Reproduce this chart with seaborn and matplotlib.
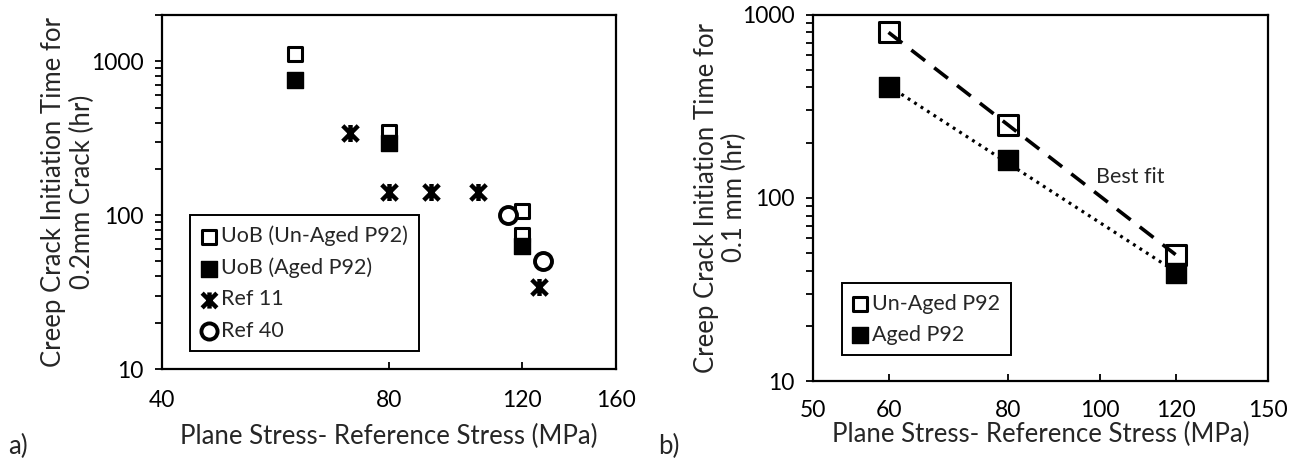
import numpy as np
import pandas as pd
import matplotlib
matplotlib.use("Agg")
import matplotlib.pyplot as plt
from matplotlib.path import Path
from matplotlib.ticker import FixedLocator, NullFormatter, LogLocator, FixedFormatter
import seaborn as sns

# ---------------- data: panel a) ----------------
a_unaged_x = [60, 80, 120, 120]
a_unaged_y = [1120, 345, 106, 74]
a_aged_x = [60, 80, 120]
a_aged_y = [760, 295, 63]
a_ref11_x = [71, 80, 91, 105, 126.5]
a_ref11_y = [340, 141, 141, 141, 34]
a_ref40_x = [115, 128]
a_ref40_y = [100, 50]
a_xticks = [40, 80, 120, 160]
a_yticks = [10, 100, 1000]

# ---------------- data: panel b) ----------------
b_unaged_x = [60, 80, 120]
b_unaged_y = [800, 250, 49]
b_aged_x = [60, 80, 120]
b_aged_y = [400, 160, 39]
b_xticks = [50, 60, 80, 100, 120, 150]
b_yticks = [10, 100, 1000]

sns.set_theme(style="ticks")
plt.rcParams['font.family'] = ['Lato', 'DejaVu Sans']
plt.rcParams['axes.edgecolor'] = 'black'
plt.rcParams['axes.linewidth'] = 1.5

FS_TICK = 16.5
FS_LEG = 15.5
FS_LAB = 18.5

fig = plt.figure(figsize=(12.93, 4.59), dpi=100)
axA = fig.add_axes([162/1293, 1-369/459, 454/1293, 354/459])
axB = fig.add_axes([813/1293, 1-381/459, 455/1293, 366.5/459])

star = Path([(-0.5, -0.5), (0.5, 0.5), (-0.5, 0.5), (0.5, -0.5), (0, -0.55), (0, 0.55)],
            [Path.MOVETO, Path.LINETO, Path.MOVETO, Path.LINETO, Path.MOVETO, Path.LINETO])

# ---- panel a ----
sns.scatterplot(x=a_unaged_x, y=a_unaged_y, ax=axA, marker='s', s=115, facecolor='white',
                edgecolor='black', linewidth=2.2, label='UoB (Un-Aged P92)', zorder=3)
sns.scatterplot(x=a_aged_x, y=a_aged_y, ax=axA, marker='s', s=140, color='black',
                edgecolor='black', linewidth=1, label='UoB (Aged P92)', zorder=4)
sns.scatterplot(x=a_ref11_x, y=a_ref11_y, ax=axA, marker=star, s=150, color='black',
                edgecolor='black', linewidth=3.2, label='Ref 11', zorder=3)
sns.scatterplot(x=a_ref40_x, y=a_ref40_y, ax=axA, marker='o', s=150, facecolor='white',
                edgecolor='black', linewidth=2.8, label='Ref 40', zorder=3)

# ---- panel b ----
def fit_line(xs, ys):
    lx, ly = np.log10(xs), np.log10(ys)
    k, c = np.polyfit(lx, ly, 1)
    xx = np.linspace(min(xs), max(xs), 50)
    return xx, 10 ** (c + k * np.log10(xx))

fx1, fy1 = fit_line(b_unaged_x, b_unaged_y)
fx2, fy2 = fit_line(b_aged_x, b_aged_y)

sns.scatterplot(x=b_unaged_x, y=b_unaged_y, ax=axB, marker='s', s=190, facecolor='white',
                edgecolor='black', linewidth=2.2, label='Un-Aged P92', zorder=3)
sns.scatterplot(x=b_aged_x, y=b_aged_y, ax=axB, marker='s', s=210, color='black',
                edgecolor='black', linewidth=1, label='Aged P92', zorder=4)
sns.lineplot(x=fx1, y=fy1, ax=axB, color='black', lw=2.6, zorder=5, legend=False)
axB.lines[-1].set_dashes((4.8, 3.2))
axB.lines[-1].set_dash_capstyle('butt')
sns.lineplot(x=fx2, y=fy2, ax=axB, color='black', lw=2.3, zorder=5, legend=False)
axB.lines[-1].set_dashes((0.9, 1.5))
axB.text(99, 130, 'Best fit', fontsize=FS_LEG, ha='left', va='center')

# ---- axes styling ----
def style(ax, xlim, xticks, ylim, yticks, xlabel, ylabel, ylab_x, xlab_y, xpad):
    ax.set_xscale('log')
    ax.set_yscale('log')
    ax.set_xlim(*xlim)
    ax.set_ylim(*ylim)
    ax.xaxis.set_major_locator(FixedLocator(xticks))
    ax.xaxis.set_major_formatter(FixedFormatter([str(t) for t in xticks]))
    ax.xaxis.set_minor_locator(FixedLocator([]))
    ax.xaxis.set_minor_formatter(NullFormatter())
    ax.yaxis.set_major_locator(FixedLocator(yticks))
    ax.yaxis.set_major_formatter(FixedFormatter([str(t) for t in yticks]))
    ax.yaxis.set_minor_locator(LogLocator(base=10, subs=np.arange(2, 10)))
    ax.yaxis.set_minor_formatter(NullFormatter())
    ax.tick_params(axis='x', which='major', direction='in', length=5, width=1.3,
                   pad=xpad, labelsize=FS_TICK, colors='black')
    ax.tick_params(axis='y', which='both', direction='out', length=5, width=1.3,
                   pad=8.5, labelsize=FS_TICK, colors='black')
    for sp in ax.spines.values():
        sp.set_visible(True)
        sp.set_color('black')
        sp.set_linewidth(1.6)
    ax.set_xlabel(xlabel, fontsize=FS_LAB)
    ax.set_ylabel(ylabel, fontsize=FS_LAB, linespacing=1.15)
    ax.xaxis.set_label_coords(0.5, xlab_y)
    ax.xaxis.label.set_va('center')
    ax.yaxis.set_label_coords(ylab_x, 0.5)
    ax.yaxis.label.set_va('center')
    ax.set_facecolor('white')

style(axA, (40, 160), a_xticks, (10, 2000), a_yticks,
      'Plane Stress- Reference Stress (MPa)',
      'Creep Crack Initiation Time for\n0.2mm Crack (hr)', -0.207, -0.192, 15)
style(axB, (50, 150), b_xticks, (10, 1000), b_yticks,
      'Plane Stress- Reference Stress (MPa)',
      'Creep Crack Initiation Time for\n0.1 mm (hr)', -0.204, -0.147, 14)

legA = axA.legend(loc='upper left', bbox_to_anchor=(0.062, 0.435), frameon=True,
                  fancybox=False, shadow=False, fontsize=FS_LEG, handlelength=0.75,
                  handletextpad=0.2, labelspacing=0.52, borderpad=0.5, borderaxespad=0,
                  markerscale=0.95)
legA.get_frame().set_edgecolor('black')
legA.get_frame().set_linewidth(1.4)
legA.get_frame().set_alpha(1)

legB = axB.legend(loc='upper left', bbox_to_anchor=(0.064, 0.267), frameon=True,
                  fancybox=False, shadow=False, fontsize=FS_LEG, handlelength=0.7,
                  handletextpad=0.2, labelspacing=0.5, borderpad=0.5, borderaxespad=0,
                  markerscale=0.75)
legB.get_frame().set_edgecolor('black')
legB.get_frame().set_linewidth(1.4)
legB.get_frame().set_alpha(1)

fig.text(8/1293, 1-446/459, 'a)', fontsize=FS_LAB, ha='left', va='center')
fig.text(658/1293, 1-446/459, 'b)', fontsize=FS_LAB, ha='left', va='center')

fig.savefig('out.png', dpi=100, facecolor='white')
